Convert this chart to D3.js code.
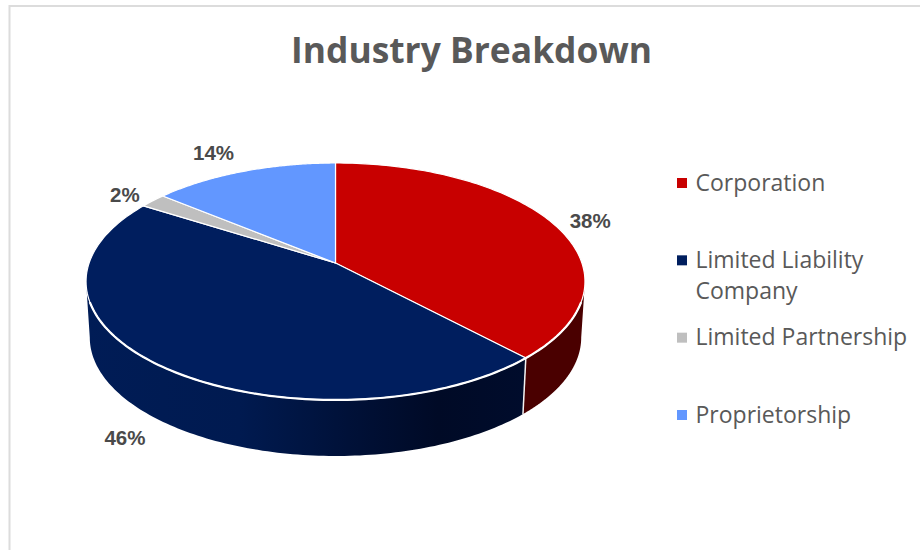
<!DOCTYPE html>
<html><head><meta charset="utf-8">
<script src="https://cdnjs.cloudflare.com/ajax/libs/d3/7.8.5/d3.min.js"></script>
<style>html,body{margin:0;padding:0;background:#fff}svg{display:block}</style>
</head><body><svg id="c" width="920" height="550"></svg>
<script>
const chartTitle = "Industry Breakdown";
const categories = ["Corporation", "Limited Liability Company", "Limited Partnership", "Proprietorship"];
const legendLines = [["Corporation"], ["Limited Liability", "Company"], ["Limited Partnership"], ["Proprietorship"]];
const values = [38, 46, 2, 14];
const colors = ["#c80000", "#001e5e", "#bfbfbf", "#6297ff"];

const svg = d3.select("#c");
const W = 920, H = 550;
// frame
svg.append("rect").attr("width", W).attr("height", H).attr("fill", "#fff");
svg.append("path").attr("d", d3.line()([[9.5, H], [9.5, 6], [W, 6]]))
  .attr("fill", "none").attr("stroke", "#dcdcdc").attr("stroke-width", 2);

// perspective disc: unit circle -> screen via scales
const k = 0.156, depth = 56, wallShrink = 0.985;
const sx = d3.scaleLinear().domain([0, 1]).range([335.5, 335.5 + 246.4]);
const sy = d3.scaleLinear().domain([0, 1]).range([263, 263 + 115.6]);
function proj(a, r = 1) {
  const x = r * Math.sin(a), y = -r * Math.cos(a), w = 1 - k * y;
  return [sx(x / w), sy(y / w)];
}
function projLow(a) {
  const [x, y] = proj(a);
  return [sx(0) + (x - sx(0)) * wallShrink, y + depth];
}
const arcs = d3.pie().sort(null).value(d => d)(values);
const samples = (a0, a1) => d3.range(0, 121).map(i => a0 + (a1 - a0) * i / 120);
const line = d3.line();

// gradients for walls
const defs = svg.append("defs");
const g = defs.append("linearGradient").attr("id", "navyWall")
  .attr("gradientUnits", "userSpaceOnUse").attr("x1", 86).attr("x2", 526).attr("y1", 0).attr("y2", 0);
[[0, "#001c56"], [0.35, "#001a50"], [0.65, "#000f33"], [0.8, "#000a26"], [1, "#000c2c"]]
  .forEach(([o, c]) => g.append("stop").attr("offset", o).attr("stop-color", c));
const wallFill = ["#4a0000", "url(#navyWall)", "#6b6b6b", "#345"];

// walls: only the near half of the disc
const nearFrom = Math.PI / 2 + Math.asin(k), nearTo = 3 * Math.PI / 2 - Math.asin(k);
arcs.forEach((d, i) => {
  const a0 = Math.max(d.startAngle, nearFrom), a1 = Math.min(d.endAngle, nearTo);
  if (a1 <= a0) return;
  const s = samples(a0, a1);
  svg.append("path").attr("d", line(s.map(a => proj(a)).concat(s.slice().reverse().map(projLow))) + "Z")
    .attr("fill", wallFill[i]);
});
// white wall seam at the corporation / LLC boundary
svg.append("path").attr("d", line([proj(arcs[0].endAngle), projLow(arcs[0].endAngle)]))
  .attr("stroke", "#f2f2f2").attr("stroke-width", 1.5).attr("fill", "none");

// top face
arcs.forEach((d, i) => {
  const s = samples(d.startAngle, d.endAngle);
  svg.append("path").attr("d", line([[sx(0), sy(0)]].concat(s.map(a => proj(a)))) + "Z")
    .attr("fill", colors[i]).attr("stroke", "#fff").attr("stroke-width", 1.2).attr("stroke-linejoin", "round");
});
// bright rim along the visible front edge
const rimA = samples(nearFrom + 0.17, nearTo - 0.17);
svg.append("path").attr("d", line(rimA.map(a => proj(a))))
  .attr("fill", "none").attr("stroke", "#fff").attr("stroke-width", 2.2);

// data labels: rim point of each slice plus a layout nudge
const labelNudge = [[38, -2], [-32, 73], [-28, -6], [-30, -19]];
arcs.forEach((d, i) => {
  const [x, y] = proj((d.startAngle + d.endAngle) / 2);
  svg.append("text").attr("x", x + labelNudge[i][0]).attr("y", y + labelNudge[i][1])
    .attr("text-anchor", "middle").attr("dominant-baseline", "central")
    .attr("font-family", "'Liberation Sans'").attr("font-weight", 700).attr("font-size", 20.5)
    .attr("fill", "#4a4a4a").text(d3.format(".0%")(d.value / d3.sum(values)));
});

// title
svg.append("text").attr("x", 471.5).attr("y", 62.5).attr("text-anchor", "middle")
  .attr("font-family", "'Open Sans'").attr("font-weight", 700).attr("font-size", 35.4)
  .attr("fill", "#595959").text(chartTitle);

// legend
const ly = d3.scalePoint().domain(categories).range([183, 415]);
categories.forEach((c, i) => {
  svg.append("rect").attr("x", 677).attr("y", ly(c) - 5).attr("width", 10).attr("height", 10).attr("fill", colors[i]);
  legendLines[i].forEach((t, j) => {
    svg.append("text").attr("x", 695.5).attr("y", ly(c) + 7.5 + j * 31)
      .attr("font-family", "'Open Sans'").attr("font-size", 23).attr("fill", "#595959").text(t);
  });
});
</script></body></html>
